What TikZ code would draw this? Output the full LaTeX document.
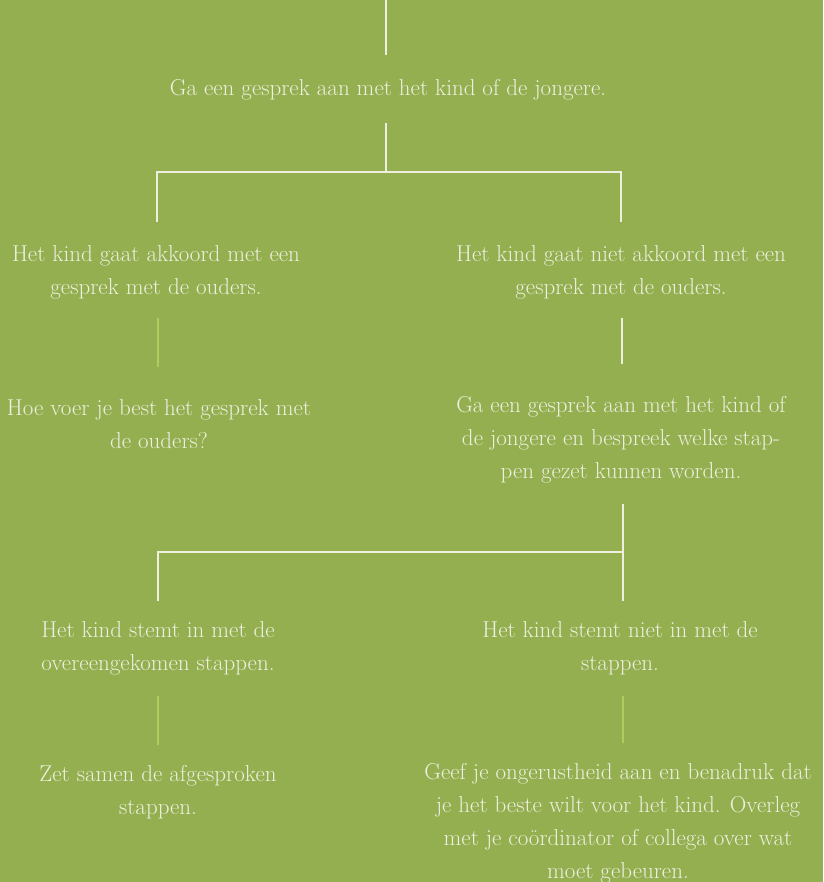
\documentclass[tikz,border=0pt]{standalone}
\usepackage{fontspec}
\definecolor{achtergrond}{HTML}{93AF4F}
\definecolor{tekst}{HTML}{EEEFDF}
\definecolor{lichtgroen}{HTML}{ABCE5E}
\tikzset{
  vak/.style={text=tekst,align=center,inner sep=0pt,font=\fontsize{23}{33}\selectfont},
  lijn/.style={draw=tekst,line width=1.2pt},
  groenlijn/.style={draw=lichtgroen,line width=1.2pt}
}
\begin{document}
\begin{tikzpicture}[x=1pt,y=-1pt]
    \fill[achtergrond] (0,0) rectangle (823,882);
    \useasboundingbox (0,0) rectangle (823,882);
    % Tekstvakken
    \node[vak] (start) at (388,90) {Ga een gesprek aan met het kind of de jongere.};
    \node[vak] (ja1) at (156,272) {Het kind gaat akkoord met een\\gesprek met de ouders.};
    \node[vak] (nee1) at (621,272) {Het kind gaat niet akkoord met een\\gesprek met de ouders.};
    \node[vak] (ouders) at (159,424) {Hoe voer je best het gesprek met\\de ouders?};
    \node[vak] (stappen) at (621,440) {Ga een gesprek aan met het kind of\\de jongere en bespreek welke stap-\\pen gezet kunnen worden.};
    \node[vak] (ja2) at (158,648) {Het kind stemt in met de\\overeengekomen stappen.};
    \node[vak] (nee2) at (620,648) {Het kind stemt niet in met de\\stappen.};
    \node[vak] (samen) at (158,792) {Zet samen de afgesproken\\stappen.};
    \node[vak] (overleg) at (618,823) {Geef je ongerustheid aan en benadruk dat\\je het beste wilt voor het kind. Overleg\\met je coördinator of collega over wat\\moet gebeuren.};
    % Verbindingen
    \coordinate (boven) at (386,0);
    \coordinate (split1) at (386,172);
    \coordinate (split2) at (623,552);
    \draw[lijn] (boven) -- ([yshift=24pt]start.north -| boven);
    \draw[lijn] ([yshift=-22pt]start.south -| boven) -- (split1);
    \draw[lijn] ([yshift=23pt]ja1.north -| 157,0) |- (split1) -| ([yshift=23pt]nee1.north);
    \draw[groenlijn] ([yshift=-19pt]ja1.south -| 158,0) -- ([yshift=32pt]ouders.north -| 158,0);
    \draw[lijn] ([yshift=-19pt]nee1.south -| 622,0) -- ([yshift=32pt]stappen.north -| 622,0);
    \draw[lijn] ([yshift=-20pt]stappen.south -| split2) -- (split2);
    \draw[lijn] ([yshift=20pt]ja2.north -| 158,0) |- (split2) -- ([yshift=20pt]nee2.north -| split2);
    \foreach \van/\naar/\x in {ja2/samen/158,nee2/overleg/623}
      \draw[groenlijn] ([yshift=-21pt]\van.south -| \x,0) -- ([yshift=20pt]\naar.north -| \x,0);
\end{tikzpicture}
\end{document}
